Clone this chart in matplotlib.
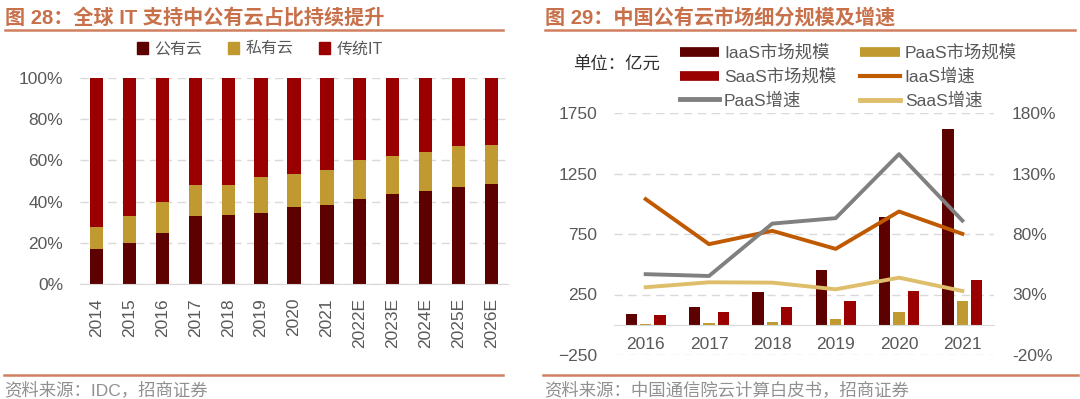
import numpy as np
import matplotlib
matplotlib.use("Agg")
import matplotlib.pyplot as plt
from matplotlib.lines import Line2D
from matplotlib.patches import Patch
from matplotlib.ticker import FuncFormatter

plt.rcParams['font.family'] = ['Liberation Sans', 'Noto Sans CJK SC']

# left chart data (share of global IT spend)
years_l = ['2014', '2015', '2016', '2017', '2018', '2019', '2020', '2021',
           '2022E', '2023E', '2024E', '2025E', '2026E']
public_cloud = [0.17, 0.20, 0.25, 0.33, 0.335, 0.345, 0.372, 0.385, 0.414, 0.435, 0.45, 0.472, 0.485]
private_cloud = [0.108, 0.132, 0.147, 0.152, 0.147, 0.175, 0.162, 0.17, 0.186, 0.185, 0.19, 0.196, 0.191]
traditional_it = [1 - a - b for a, b in zip(public_cloud, private_cloud)]

# right chart data (China public cloud, 100M yuan)
years_r = ['2016', '2017', '2018', '2019', '2020', '2021']
iaas_size = [89, 150, 271, 453, 894, 1614]
paas_size = [4, 12, 26, 45, 106, 197]
saas_size = [79, 106, 147, 197, 280, 373]
iaas_growth = [1.088, 0.716, 0.826, 0.677, 0.986, 0.801]
paas_growth = [0.468, 0.453, 0.886, 0.931, 1.46, 0.911]
saas_growth = [0.36, 0.401, 0.398, 0.343, 0.439, 0.329]

C_DARK = '#5C0000'
C_GOLD = '#C09A30'
C_RED = '#9A0000'
C_ORANGE = '#C05A00'
C_GRAY = '#808080'
C_LGOLD = '#DEBE6A'
C_TITLE = '#C8704A'
C_TXT = '#595959'
C_GRID = '#D9D9D9'

fig = plt.figure(figsize=(10.8, 3.99), dpi=100)

# titles and frame lines
fig.text(5 / 1080, 1 - 18 / 399, '图 28：全球 IT 支持中公有云占比持续提升', color=C_TITLE,
         fontsize=14.5, fontweight='bold', va='center', ha='left')
fig.text(545 / 1080, 1 - 18 / 399, '图 29：中国公有云市场细分规模及增速', color=C_TITLE,
         fontsize=14.5, fontweight='bold', va='center', ha='left')
for x0, x1 in [(5, 503), (545, 1075)]:
    fig.add_artist(Line2D([x0 / 1080, x1 / 1080], [1 - 30 / 399] * 2, color='#D08060', lw=1.8))
for x0, x1 in [(4, 503), (543, 1078)]:
    fig.add_artist(Line2D([x0 / 1080, x1 / 1080], [1 - 374.5 / 399] * 2, color='#D08060', lw=1.8))
fig.text(4 / 1080, 1 - 390 / 399, '资料来源：IDC，招商证券', color='#909090', fontsize=12.5, va='center')
fig.text(544 / 1080, 1 - 390 / 399, '资料来源：中国通信院云计算白皮书，招商证券', color='#909090',
         fontsize=12.5, va='center')

# ---- left chart
ax = fig.add_axes([80 / 1080, 1 - 284 / 399, 428 / 1080, 206 / 399])
x = np.arange(len(years_l))
bw = 0.4
ax.bar(x, public_cloud, bw, color=C_DARK, label='公有云')
ax.bar(x, private_cloud, bw, bottom=public_cloud, color=C_GOLD, label='私有云')
bottom2 = [a + b for a, b in zip(public_cloud, private_cloud)]
ax.bar(x, traditional_it, bw, bottom=bottom2, color=C_RED, label='传统IT')
ax.set_xlim(-0.5, len(years_l) - 0.5)
ax.set_ylim(0, 1)
ax.set_yticks(np.arange(0, 1.01, 0.2))
ax.yaxis.set_major_formatter(FuncFormatter(lambda v, p: f'{v * 100:.0f}%'))
ax.set_xticks(x)
ax.set_xticklabels(years_l, rotation=90)
ax.tick_params(axis='both', length=0, labelsize=12.5, colors=C_TXT)
ax.tick_params(axis='x', pad=10)
ax.tick_params(axis='y', pad=12)
for s in ['top', 'right', 'left']:
    ax.spines[s].set_visible(False)
ax.spines['bottom'].set_color(C_GRID)
ax.grid(axis='y', color=C_GRID, ls=(0, (6, 4)), lw=1)
ax.set_axisbelow(True)
ax.legend(handles=[Patch(color=C_DARK, label='公有云'), Patch(color=C_GOLD, label='私有云'),
                   Patch(color=C_RED, label='传统IT')],
          loc='center', bbox_to_anchor=(260 / 1080, 1 - 49 / 399), bbox_transform=fig.transFigure,
          ncol=3, frameon=False, fontsize=11.5, handlelength=0.7, handleheight=0.7,
          handletextpad=0.4, columnspacing=1.6, labelcolor=C_TXT)

# ---- right chart
ax2 = fig.add_axes([614 / 1080, 1 - 355 / 399, 380 / 1080, 242 / 399])
xr = np.arange(len(years_r))
w = 0.18
off = 0.225
ax2.bar(xr - off, iaas_size, w, color=C_DARK)
ax2.bar(xr, paas_size, w, color=C_GOLD)
ax2.bar(xr + off, saas_size, w, color=C_RED)
ax2.set_xlim(-0.5, len(years_r) - 0.5)
ax2.set_ylim(-250, 1750)
ax2.set_yticks([-250, 250, 750, 1250, 1750])
ax2.set_xticks(xr)
ax2.set_xticklabels(years_r)
ax2.spines['bottom'].set_position(('data', 0))
ax2.spines['bottom'].set_color(C_GRID)
for s in ['top', 'right', 'left']:
    ax2.spines[s].set_visible(False)
ax2.tick_params(axis='both', length=0, labelsize=12.5, colors=C_TXT)
ax2.tick_params(axis='x', pad=9)
ax2.tick_params(axis='y', pad=12)
ax2.grid(axis='y', color=C_GRID, ls=(0, (6, 4)), lw=1)
ax2.set_axisbelow(True)

ax3 = ax2.twinx()
ax3.plot(xr, iaas_growth, color=C_ORANGE, lw=2.8)
ax3.plot(xr, paas_growth, color=C_GRAY, lw=2.8)
ax3.plot(xr, saas_growth, color=C_LGOLD, lw=2.8)
ax3.set_ylim(-0.2, 1.8)
ax3.set_yticks([-0.2, 0.3, 0.8, 1.3, 1.8])
ax3.yaxis.set_major_formatter(FuncFormatter(lambda v, p: f'{v * 100:.0f}%'))
ax3.tick_params(axis='y', length=0, labelsize=12.5, colors=C_TXT, pad=13)
for s in ['top', 'right', 'left', 'bottom']:
    ax3.spines[s].set_visible(False)

fig.text(573 / 1080, 1 - 65 / 399, '单位：亿元', fontsize=12.5, color='#303030', va='center')
# order so that the two-column legend reads row by row like the reference
handles = [
    Line2D([], [], color=C_DARK, lw=7, solid_capstyle='butt', label='IaaS市场规模'),
    Line2D([], [], color=C_RED, lw=7, solid_capstyle='butt', label='SaaS市场规模'),
    Line2D([], [], color=C_GRAY, lw=3.5, label='PaaS增速'),
    Line2D([], [], color=C_GOLD, lw=7, solid_capstyle='butt', label='PaaS市场规模'),
    Line2D([], [], color=C_ORANGE, lw=3, label='IaaS增速'),
    Line2D([], [], color=C_LGOLD, lw=3.5, label='SaaS增速'),
]
fig.legend(handles=handles, loc='upper left', bbox_to_anchor=(664 / 1080, 1 - 29 / 399),
           ncol=2, frameon=False, fontsize=12.5, handlelength=2.25, handletextpad=0.3,
           columnspacing=1.4, labelspacing=0.42, labelcolor=C_TXT)

fig.savefig('out.png', dpi=100)
